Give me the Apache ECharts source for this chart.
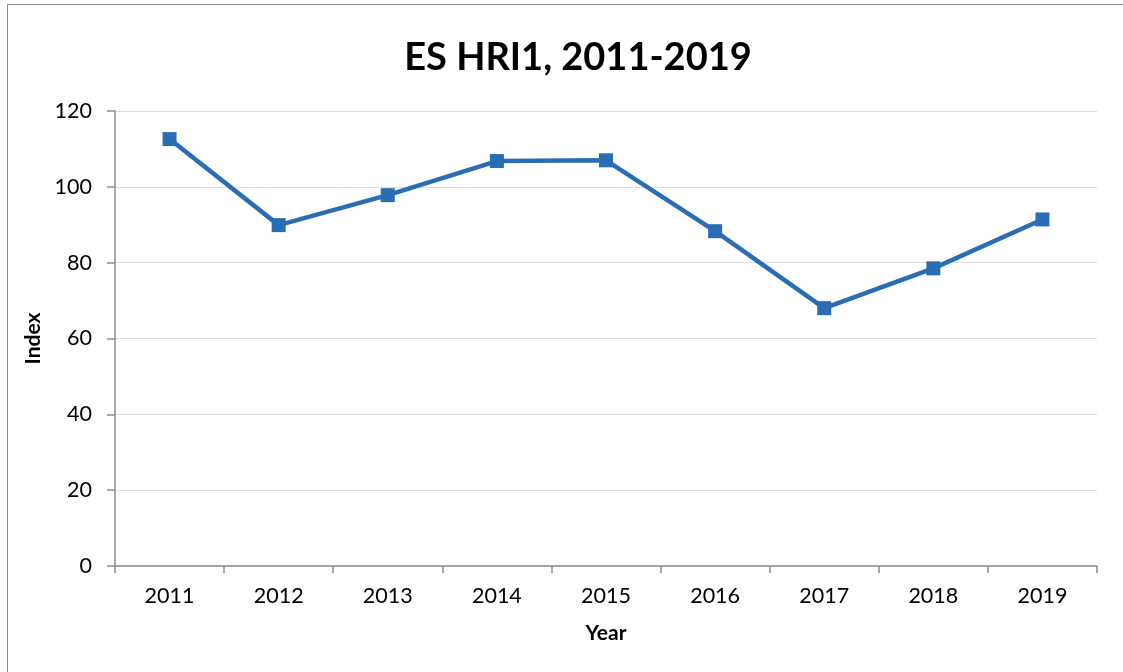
<!DOCTYPE html>
<html><head><meta charset="utf-8">
<script src="https://cdn.jsdelivr.net/npm/echarts@6/dist/echarts.min.js"></script>
<style>html,body{margin:0;padding:0;background:#fff}#c{width:1123px;height:672px}
#frame{position:absolute;left:7px;top:4px;width:1130px;height:700px;border:1.5px solid #8c8c8c;pointer-events:none}</style>
</head><body><div id="c"></div><div id="frame"></div>
<script>
const years = ['2011','2012','2013','2014','2015','2016','2017','2018','2019'];
const indexValues = [112.6, 89.9, 97.8, 106.8, 107.0, 88.3, 68.0, 78.5, 91.4];
const yTicks = {min: 0, max: 120, interval: 20};
const chart = echarts.init(document.getElementById('c'));
const font = 'Lato, "Open Sans", sans-serif';
chart.setOption({
  animation: false,
  title: {text: 'ES HRI1, 2011-2019', left: 573, textAlign: 'center', top: 34,
    textStyle: {fontFamily: font, fontWeight: 'bold', fontSize: 38, color: '#000'}},
  grid: {left: 115, right: 26, top: 111, bottom: 106},
  xAxis: {type: 'category', data: years, boundaryGap: true,
    name: 'Year', nameLocation: 'middle', nameGap: 57,
    nameTextStyle: {fontFamily: font, fontWeight: 'bold', fontSize: 21, color: '#000'},
    axisLine: {lineStyle: {color: '#8c8c8c', width: 1.5}},
    axisTick: {show: true, length: 7, lineStyle: {color: '#8c8c8c', width: 1.5}},
    axisLabel: {fontFamily: font, fontSize: 21.5, color: '#000', margin: 19}},
  yAxis: {type: 'value', min: yTicks.min, max: yTicks.max, interval: yTicks.interval,
    name: 'Index', nameLocation: 'middle', nameGap: 70, nameRotate: 90,
    nameTextStyle: {fontFamily: font, fontWeight: 'bold', fontSize: 21, color: '#000'},
    axisLine: {show: true, lineStyle: {color: '#8c8c8c', width: 1.5}},
    axisTick: {show: true, length: 8, lineStyle: {color: '#8c8c8c', width: 1.5}},
    axisLabel: {fontFamily: font, fontSize: 21.5, color: '#000', margin: 23}},
  series: [{type: 'line', data: indexValues, symbol: 'rect', symbolSize: 14,
    lineStyle: {color: '#2A6DB5', width: 4.5}, itemStyle: {color: '#2A6DB5'}}]
});
</script></body></html>
